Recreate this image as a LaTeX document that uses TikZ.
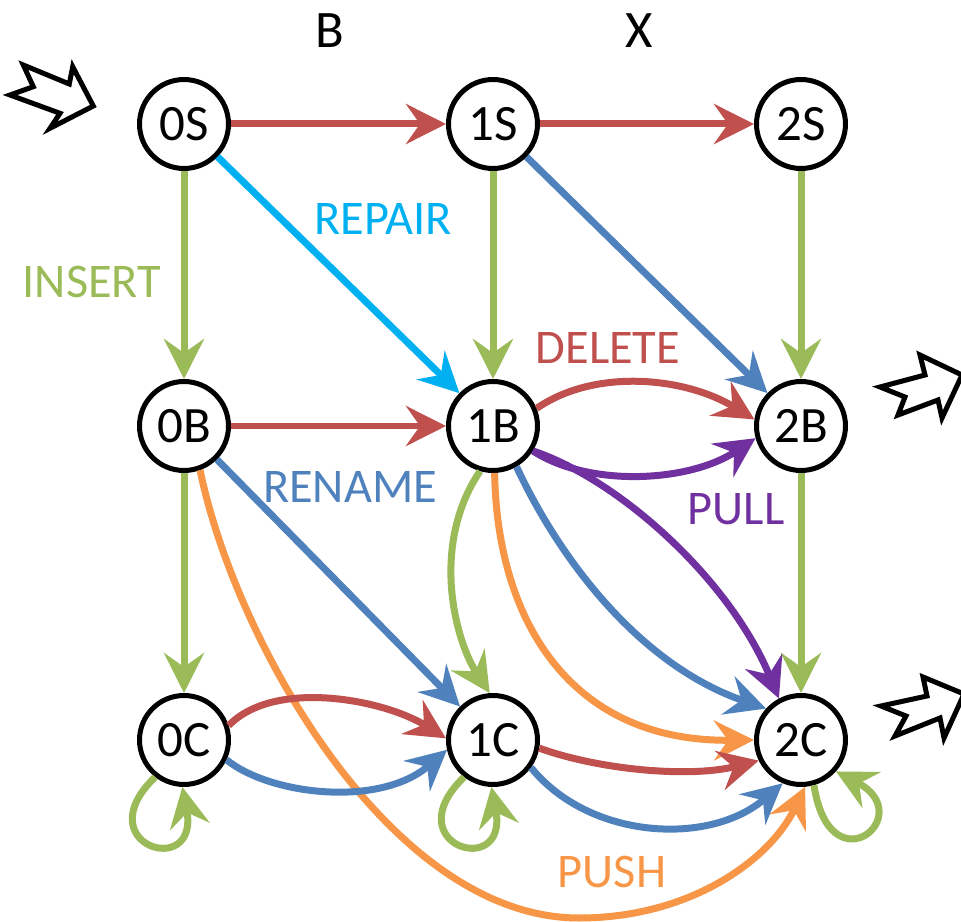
\documentclass[tikz,border=0pt]{standalone}
\usepackage{fontspec}
\setmainfont{Carlito}
\usetikzlibrary{arrows.meta}
\definecolor{cred}{HTML}{C0504D}
\definecolor{cgreen}{HTML}{9BBB59}
\definecolor{cblue}{HTML}{4F81BD}
\definecolor{ccyan}{HTML}{00B0F0}
\definecolor{cpurple}{HTML}{7030A0}
\definecolor{corange}{HTML}{F79646}
\begin{document}
\begin{tikzpicture}[x=0.02cm,y=-0.02cm,
  st/.style={circle,draw=black,line width=0.1cm,minimum size=1.78cm,inner sep=0pt,font=\fontsize{29}{32}\selectfont},
  edge/.style={line width=0.14cm,-{Stealth[length=0.8cm,width=0.8cm,inset=0.28cm]}},
  lab/.style={font=\fontsize{27.5}{31}\selectfont},
  hdr/.style={font=\fontsize{30}{34}\selectfont},
  blockarrow/.style={draw=black,line width=0.1cm,fill=white,line join=miter}
]
\useasboundingbox (0,0) rectangle (961,922);
\clip (0,0) rectangle (961,922);

% states
\node[st] (0S) at (184,124) {0S};
\node[st] (1S) at (493,124) {1S};
\node[st] (2S) at (801,124) {2S};
\node[st] (0B) at (184,426) {0B};
\node[st] (1B) at (493,426) {1B};
\node[st] (2B) at (801,426) {2B};
\node[st] (0C) at (184,740) {0C};
\node[st] (1C) at (493,740) {1C};
\node[st] (2C) at (801,740) {2C};

% headers
\node[hdr] (hB) at (330,31) {B};
\node[hdr] (hX) at (639,31) {X};

% labels
\node[lab,text=cgreen] (lins) at (92,282) {INSERT};
\node[lab,text=ccyan] (lrep) at (383,219) {REPAIR};
\node[lab,text=cred] (ldel) at (608,348) {DELETE};
\node[lab,text=cblue] (lren) at (350,487) {RENAME};
\node[lab,text=cpurple] (lpul) at (736,509) {PULL};
\node[lab,text=corange] (lpus) at (612,872) {PUSH};

% straight edges
\draw[edge,cred] (0S) -- (1S);
\draw[edge,cred] (1S) -- (2S);
\draw[edge,cred] (0B) -- (1B);
\draw[edge,cgreen] (0S) -- (0B);
\draw[edge,cgreen] (1S) -- (1B);
\draw[edge,cgreen] (2S) -- (2B);
\draw[edge,cgreen] (0B) -- (0C);
\draw[edge,cgreen] (2B) -- (2C);
\draw[edge,ccyan] (0S) -- (1B);
\draw[edge,cblue] (1S) -- (2B);
\draw[edge,cblue] (0B) -- (1C);

% curved edges
\draw[edge,cred] (1B.22) .. controls (595,368) and (685,377) .. (2B.172);
\draw[edge,cpurple] (1B.-32) .. controls (590,488) and (690,482) .. (2B.195);
\draw[edge,cpurple] (1B.-32) .. controls (620,480) and (730,580) .. (2C.118);
\draw[edge,cblue] (1B.-60) .. controls (560,560) and (640,665) .. (2C.138);
\draw[edge,corange] (1B.-88) .. controls (497,620) and (570,742) .. (2C.180);
\draw[edge,cgreen] (1B.-106) .. controls (430,545) and (455,640) .. (1C.94);
\coordinate (pushlow) at (579,918);
\draw[edge,corange] (0B.-70) .. controls (235,640) and (390,918) .. (pushlow) .. controls (690,918) and (770,860) .. (2C.-85);
\draw[edge,cred] (0C.18) .. controls (275,678) and (385,700) .. (1C.178);
\draw[edge,cblue] (0C.-25) .. controls (270,795) and (380,808) .. (1C.192);
\draw[edge,cred] (1C.-10) .. controls (600,770) and (690,778) .. (2C.206);
\draw[edge,cblue] (1C.-36) .. controls (590,840) and (710,846) .. (2C.247);

% self loops
\draw[edge,cgreen] (0C.-128) .. controls (85,845) and (200,880) .. (0C.-92);
\draw[edge,cgreen] (1C.-128) .. controls (394,845) and (509,880) .. (1C.-92);
\draw[edge,cgreen] (2C.-74) .. controls (830,890) and (920,815) .. (2C.-42);

% block arrows
\draw[blockarrow] (23.3,65) -- (33.3,86.7) -- (10,95) -- (60,113.3) -- (50,128.3) -- (93.3,106) -- (72.7,66.7) -- (69.3,84) -- cycle;
\draw[blockarrow] (880,387) -- (905,397) -- (898,415) -- (938,400) -- (942,418) -- (962,375) -- (920,355) -- (925,375) -- cycle;
\draw[blockarrow] (881,706) -- (906,716) -- (895,736) -- (940,718) -- (944,738) -- (964,694) -- (923,677) -- (927,696) -- cycle;
\end{tikzpicture}
\end{document}
